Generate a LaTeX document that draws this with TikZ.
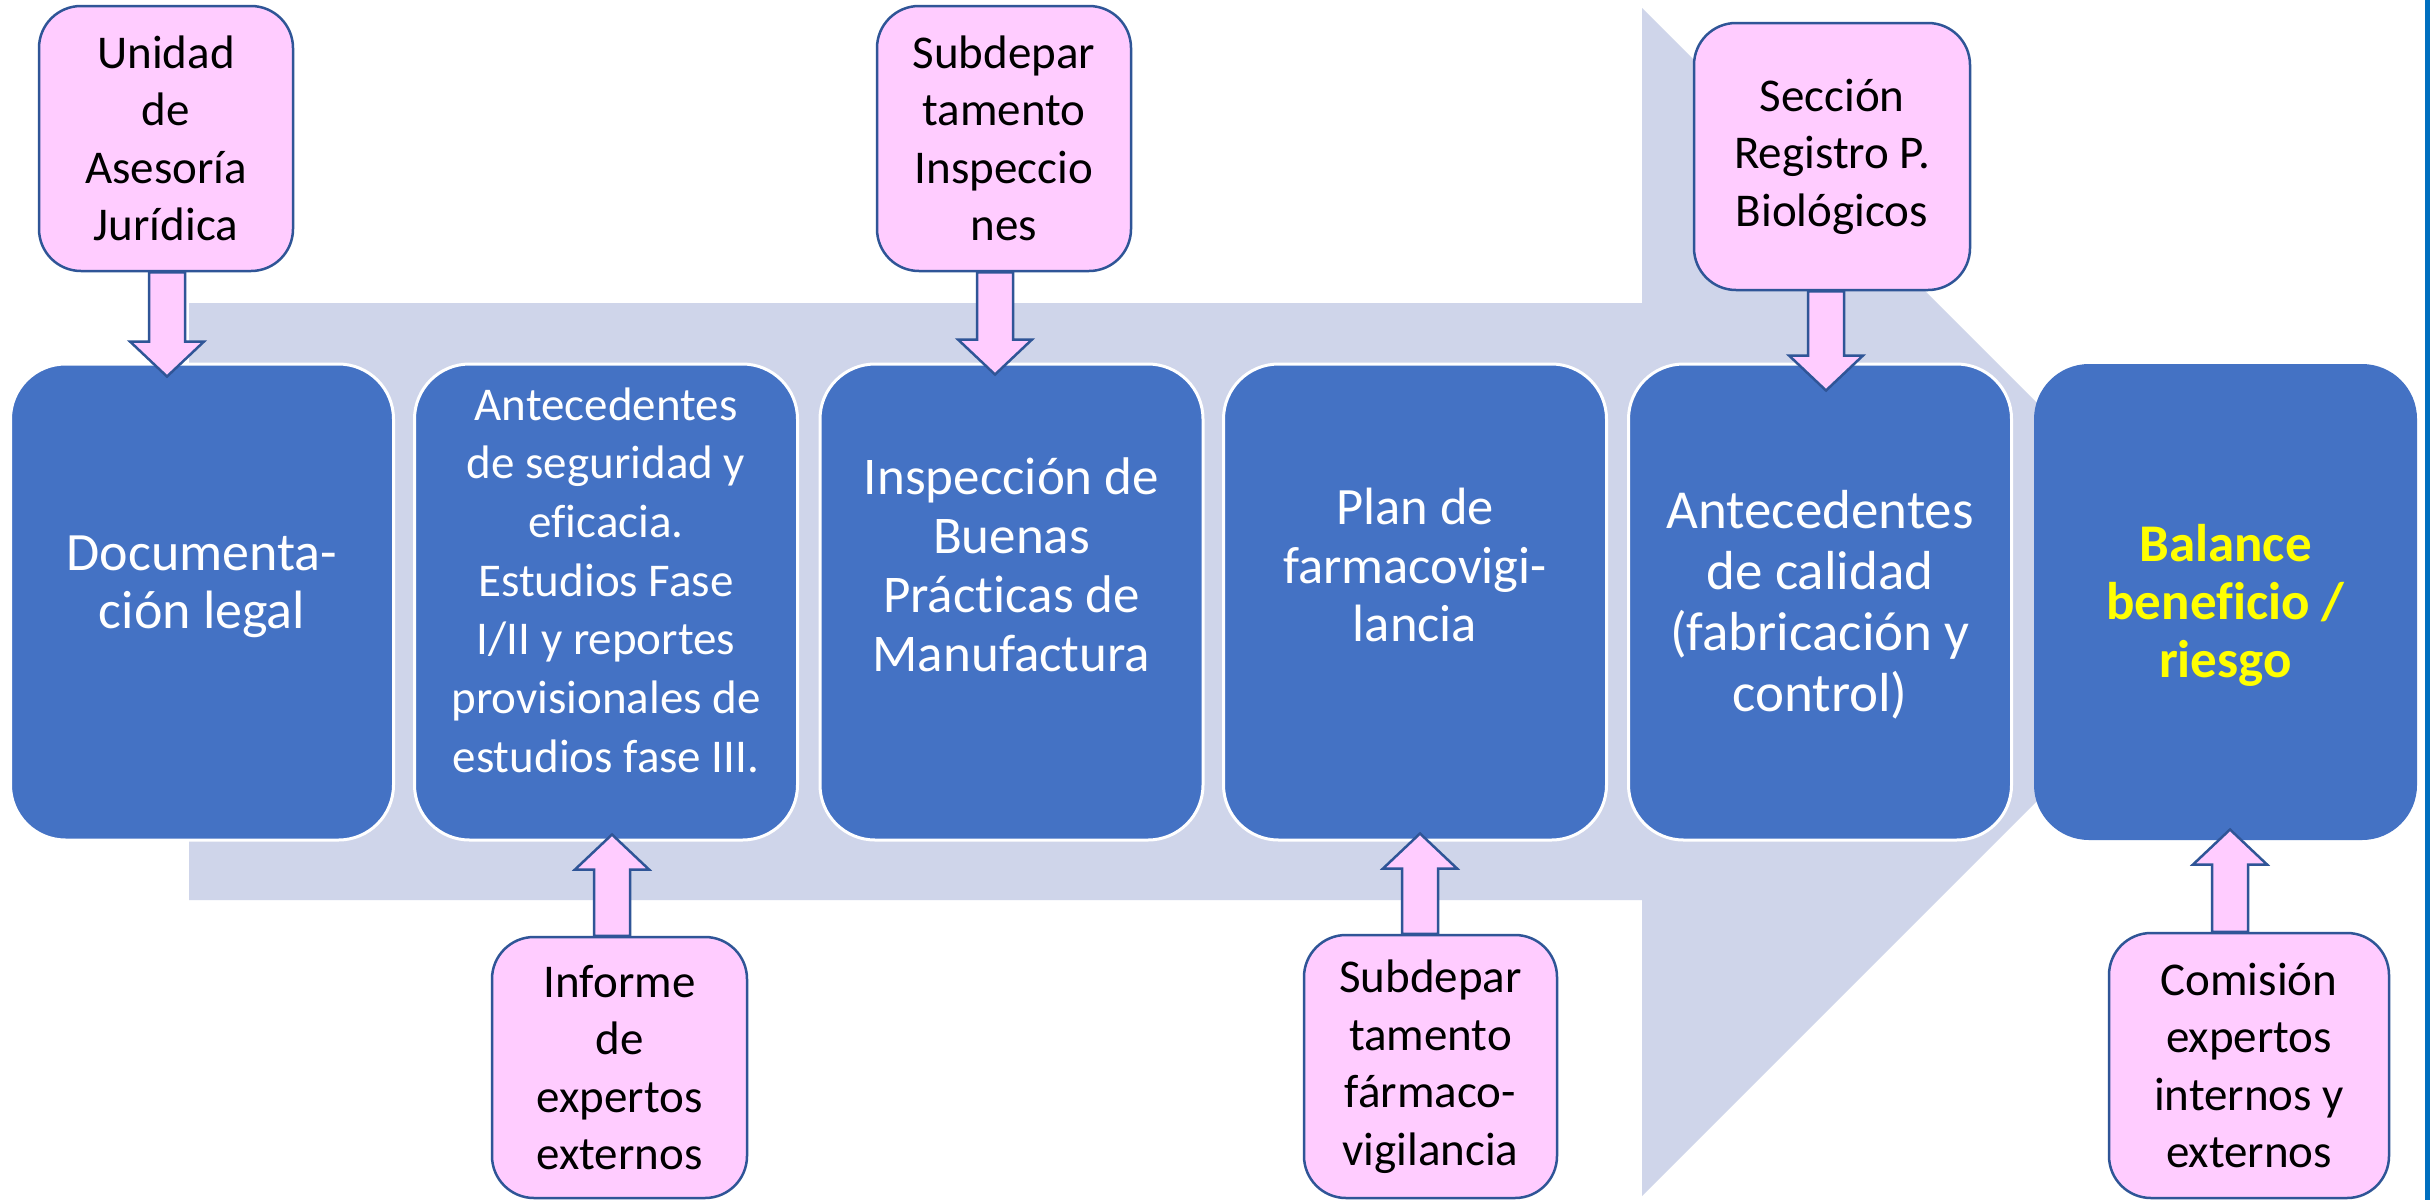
\documentclass[tikz,border=0pt]{standalone}
\usepackage{fontspec}
\setmainfont{Carlito}[Ligatures={NoCommon}]
\usetikzlibrary{calc}
\definecolor{arrowbg}{HTML}{CFD5EA}
\definecolor{boxblue}{HTML}{4472C4}
\definecolor{pinkfill}{HTML}{FFCCFF}
\definecolor{pinkline}{HTML}{2F5597}
\definecolor{edgeblue}{HTML}{0070C0}
\definecolor{hiyellow}{HTML}{FFFF00}
\tikzset{
  bluebox/.style={rectangle, rounded corners=55pt, fill=boxblue, draw=white, line width=3pt,
    minimum width=383pt, minimum height=476pt, inner sep=0pt},
  bluetext/.style={text=white, align=center, inner sep=0pt},
  pinkbox/.style={rectangle, rounded corners=42pt, fill=pinkfill, draw=pinkline, line width=2.5pt,
    minimum width=254pt, minimum height=265pt, inner sep=0pt, align=center,
    font=\fontsize{47pt}{57.5pt}\selectfont},
  blkarrow/.style={fill=pinkfill, draw=pinkline, line width=2.5pt, line join=miter},
}
\newcommand\blkdown[2]{\draw[blkarrow] ($(#1)+(-18,0)$) -- ($(#2)+(-18,-35)$) -- ($(#2)+(-37,-35)$) -- (#2) -- ($(#2)+(37,-35)$) -- ($(#2)+(18,-35)$) -- ($(#1)+(18,0)$) -- cycle;}
\newcommand\blkup[2]{\draw[blkarrow] ($(#1)+(-18,0)$) -- ($(#2)+(-18,35)$) -- ($(#2)+(-37,35)$) -- (#2) -- ($(#2)+(37,35)$) -- ($(#2)+(18,35)$) -- ($(#1)+(18,0)$) -- cycle;}
\begin{document}
\begin{tikzpicture}[x=1pt,y=-1pt]
\useasboundingbox[fill=white] (0,0) rectangle (2430,1200);
% big background arrow
\fill[arrowbg] (189,303) -- (1642,303) -- (1642,8) -- (2236,602) -- (1642,1196) -- (1642,900) -- (189,900) -- cycle;
% right edge line
\draw[edgeblue, line width=5pt] (2427,0) -- (2427,1200);
% blue step boxes
\node[bluebox] (b1) at (202,602) {};
\node[bluebox] (b2) at (606,602) {};
\node[bluebox] (b3) at (1011.5,602) {};
\node[bluebox] (b4) at (1415,602) {};
\node[bluebox] (b5) at (1820,602) {};
\node[bluebox, draw=none] (b6) at (2225.5,602) {};
% texts
\node[bluetext, font=\fontsize{54pt}{58pt}\selectfont] (t1) at ($(b1.center)+(0,-15)$) {Documenta-\\ción legal};
\node[bluetext, font=\fontsize{47pt}{58.7pt}\selectfont] (t2) at ($(b2.center)+(0,-22)$) {Antecedentes\\de seguridad y\\eficacia.\\Estudios Fase\\I/II y reportes\\provisionales de\\estudios fase III.};
\node[bluetext, font=\fontsize{53pt}{59pt}\selectfont] (t3) at ($(b3.center)+(0,-37)$) {Inspección de\\Buenas\\Prácticas de\\Manufactura};
\node[bluetext, font=\fontsize{52.5pt}{58.5pt}\selectfont] (t4) at ($(b4.center)+(0,-37)$) {Plan de\\farmacovigi-\\lancia};
\node[bluetext, font=\fontsize{55pt}{61pt}\selectfont] (t5) at ($(b5.center)+(0,3)$) {Antecedentes\\de calidad\\(fabricación y\\control)};
\node[bluetext, text=hiyellow, font=\fontsize{53pt}{58pt}\selectfont\bfseries] (t6) at ($(b6.center)+(0,3)$) {Balance\\beneficio /\\riesgo};
% pink boxes
\node[pinkbox] (p1) at (166,138.5) {Unidad\\de\\Asesoría\\Jurídica};
\node[pinkbox] (p2) at (1004,138.5) {Subdepar\\tamento\\Inspeccio\\nes};
\node[pinkbox, minimum width=276pt, minimum height=267pt] (p3) at (1832,156.5) {Sección\\Registro P.\\Biológicos};
\node[pinkbox, minimum width=255pt, minimum height=261pt] (p4) at (619.5,1067.5) {Informe\\de\\expertos\\externos};
\node[pinkbox, minimum width=253pt, minimum height=263pt] (p5) at (1430.5,1066.5) {Subdepar\\tamento\\fármaco-\\vigilancia};
\node[pinkbox, minimum width=280pt, minimum height=265pt] (p6) at (2249,1065.5) {Comisión\\expertos\\internos y\\externos};
% block arrows
\coordinate (s1) at ($(p1.south)+(1,0)$);
\coordinate (e1) at ($(p1.south |- b1.north)+(1,14)$);
\blkdown{s1}{e1}
\coordinate (s2) at ($(p2.south)+(-9,0)$);
\coordinate (e2) at ($(p2.south |- b3.north)+(-9,12)$);
\blkdown{s2}{e2}
\coordinate (s3) at ($(p3.south)+(-6,0)$);
\coordinate (e3) at ($(p3.south |- b5.north)+(-6,28)$);
\blkdown{s3}{e3}
\coordinate (s4) at ($(p4.north)+(-7.5,0)$);
\coordinate (e4) at ($(p4.north |- b2.south)+(-7.5,-7)$);
\blkup{s4}{e4}
\coordinate (s5) at ($(p5.north)+(-10.5,0)$);
\coordinate (e5) at ($(p5.north |- b4.south)+(-10.5,-8)$);
\blkup{s5}{e5}
\coordinate (s6) at ($(p6.north)+(-19,0)$);
\coordinate (e6) at ($(p6.north |- b6.south)+(-19,-12)$);
\blkup{s6}{e6}
\end{tikzpicture}
\end{document}
